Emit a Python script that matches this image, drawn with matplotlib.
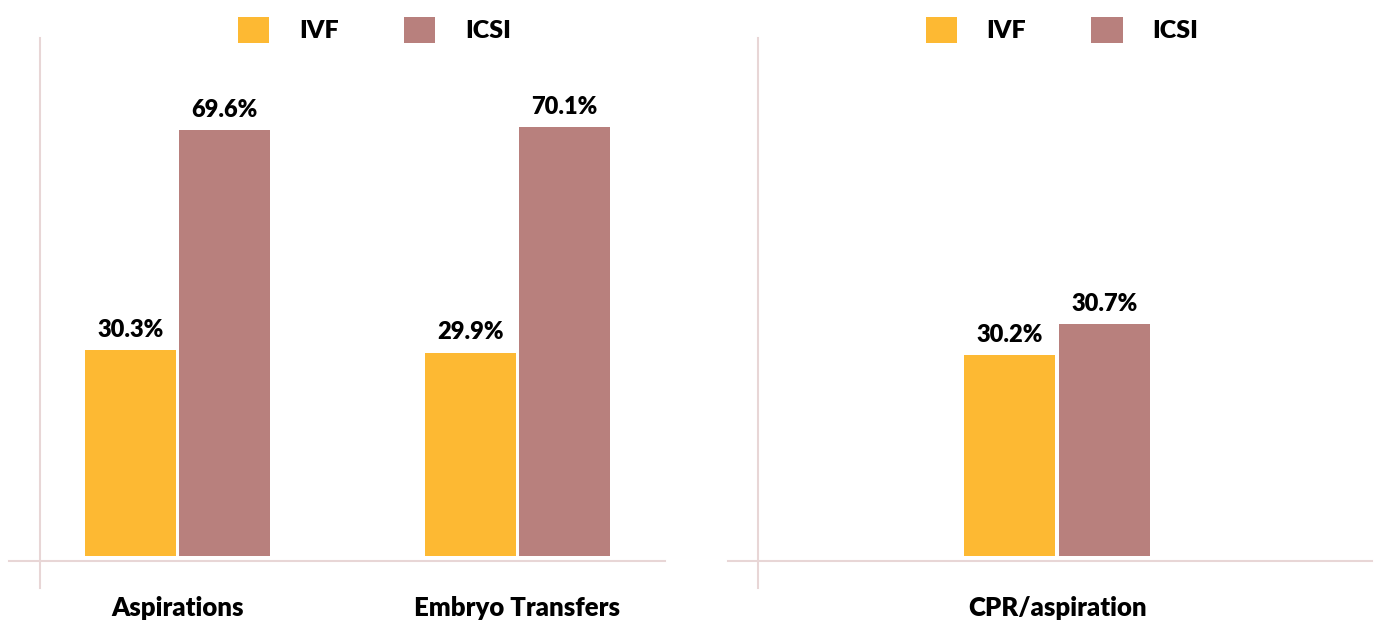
import matplotlib.pyplot as plt
from matplotlib.patches import Patch

plt.rcParams['font.family'] = ['Lato', 'DejaVu Sans']

# data
left_cats = ['Aspirations', 'Embryo Transfers']
left_ivf = [30.3, 29.9]
left_icsi = [69.6, 70.1]

right_cats = ['CPR/aspiration']
right_ivf = [30.2]
right_icsi = [30.7]

series = ['IVF', 'ICSI']
colors = ['#FDB933', '#B8807D']
line_col = '#E8D6D6'
fw = 'heavy'

W, H = 1374, 620
fig = plt.figure(figsize=(W / 100, H / 100), dpi=100)


def px_axes(x0, x1, y_top, y_bot):
    return fig.add_axes([x0 / W, 1 - y_bot / H, (x1 - x0) / W, (y_bot - y_top) / H])


def draw_panel(ax, cats, ivf, icsi, base, ylim, xlim, vline_x, legend_cx):
    pos = list(range(len(cats)))
    w = 0.268
    ax.bar([p - 0.139 for p in pos], [v - base for v in ivf], w, bottom=base, color=colors[0])
    ax.bar([p + 0.139 for p in pos], [v - base for v in icsi], w, bottom=base, color=colors[1])
    for p, a, b in zip(pos, ivf, icsi):
        ax.annotate(f'{a:.1f}%', (p - 0.139, a), xytext=(0, 7), textcoords='offset points',
                    ha='center', va='bottom', fontsize=17, fontweight=fw)
        ax.annotate(f'{b:.1f}%', (p + 0.139, b), xytext=(0, 7), textcoords='offset points',
                    ha='center', va='bottom', fontsize=17, fontweight=fw)
    for p, c in zip(pos, cats):
        ax.text(p, -47 / 523, c, transform=ax.get_xaxis_transform(), ha='center', va='center',
                fontsize=18.5, fontweight=fw)
    ax.set_xlim(*xlim)
    ax.set_ylim(*ylim)
    ax.axis('off')
    ax.plot([0, 1], [0, 0], transform=ax.transAxes, color=line_col, lw=1.5, clip_on=False)
    ax.plot([vline_x, vline_x], [-27 / 523, 1], transform=ax.transAxes, color=line_col,
            lw=1.5, clip_on=False)
    handles = [Patch(facecolor=c, edgecolor='none') for c in colors]
    fig.legend(handles, series, loc='center', bbox_to_anchor=(legend_cx / W, 1 - 30 / H),
               ncol=2, frameon=False, handlelength=1.25, handleheight=1.25, handletextpad=1.2,
               columnspacing=2.6, prop={'size': 18, 'weight': fw})


ax1 = px_axes(9, 665, 38, 561)
draw_panel(ax1, left_cats, left_ivf, left_icsi, base=-6.43, ylim=(-7.32, 86.07),
           xlim=(-0.4956, 1.434), vline_x=(40 - 9) / 656, legend_cx=374.5)

ax2 = px_axes(728, 1372, 38, 561)
draw_panel(ax2, right_cats, right_ivf, right_icsi, base=26.96, ylim=(26.88, 35.32),
           xlim=(-0.968, 0.926), vline_x=(758 - 728) / 644, legend_cx=1062)

fig.savefig('out.png', dpi=100, facecolor='white')
